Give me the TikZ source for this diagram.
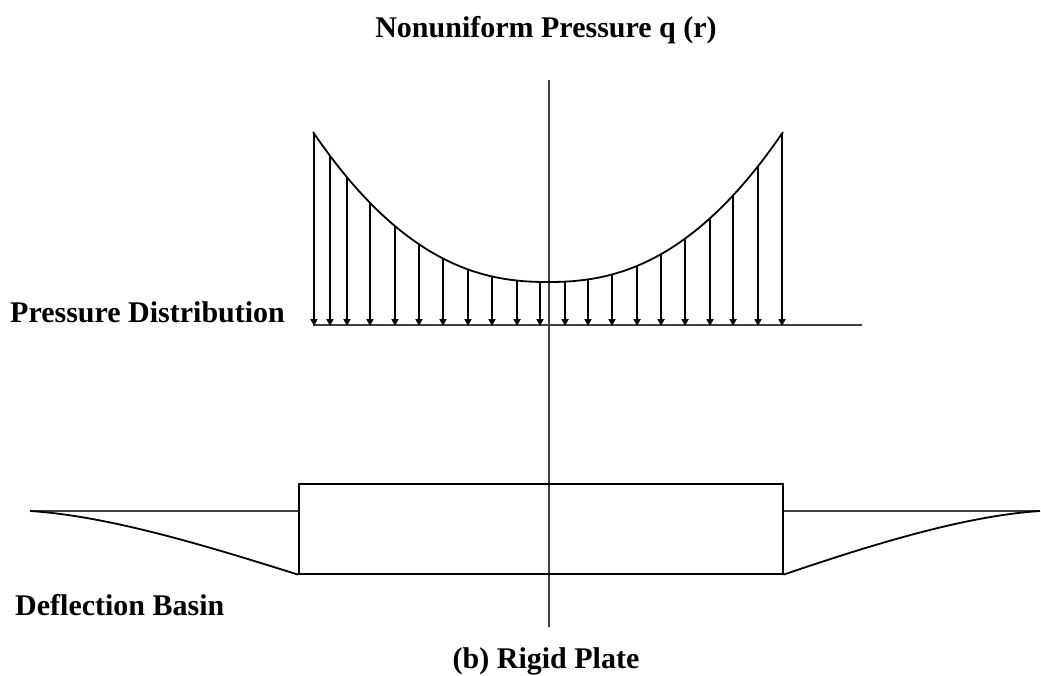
\documentclass[tikz,border=0pt]{standalone}
\usepackage{fontspec}
\setmainfont{Liberation Serif}
\usetikzlibrary{arrows.meta}
\tikzset{
  lbl/.style={font=\fontsize{30}{34}\selectfont\bfseries, inner sep=0pt},
  load/.style={line width=2.2pt, -{Triangle[length=7pt,width=7pt]}},
  axisline/.style={line width=1.5pt, draw=black!75},
  thin/.style={line width=1.6pt, draw=black!75},
}
\begin{document}
\begin{tikzpicture}[x=1pt,y=-1pt]
\useasboundingbox (0,0) rectangle (1041,675);
% labels
\node[lbl, anchor=base] (title) at (546,37) {Nonuniform Pressure q (r)};
\node[lbl, anchor=base west] (pd) at (10,322) {Pressure Distribution};
\node[lbl, anchor=base west] (db) at (15,615) {Deflection Basin};
\node[lbl, anchor=base] (rp) at (546,668) {(b) Rigid Plate};
% axis
\coordinate (atop) at (549,80);
\coordinate (abot) at (549,627);
\draw[axisline] (atop) -- (abot);
% baseline
\coordinate (bl) at (313,325);
\coordinate (br) at (862,325);
\draw[thin] (bl) -- (br);
% pressure curve
\draw[line width=1.8pt] plot[domain=313:783, samples=120, smooth] (\x, {282-150*pow(abs(\x-548)/235,2.3)});
% load arrows
\foreach \xx in {314,330,347,370,395,419,443,468,492,517,540,565,588,612,637,661,685,710,733,758,782}{
  \coordinate (t\xx) at (\xx, {282-150*pow(abs(\xx-548)/235,2.3)});
  \coordinate (b\xx) at (\xx, 326);
  \draw[load] (t\xx) -- (b\xx);
}
% rigid plate
\node[draw, line width=1.6pt, minimum width=484pt, minimum height=90pt, inner sep=0pt, anchor=north west] (plate) at (298,483) {};
% deflection basin
\coordinate (lt) at (30,511);
\coordinate (rt) at (1040,511);
\draw[thin] (lt) -- (plate.west |- lt);
\draw[thin] (rt) -- (plate.east |- rt);
\draw[line width=1.8pt] (lt) .. controls (110,516) and (210,547) .. (plate.south west);
\draw[line width=1.8pt] (rt) .. controls (962,516) and (865,547) .. (plate.south east);
\end{tikzpicture}
\end{document}
